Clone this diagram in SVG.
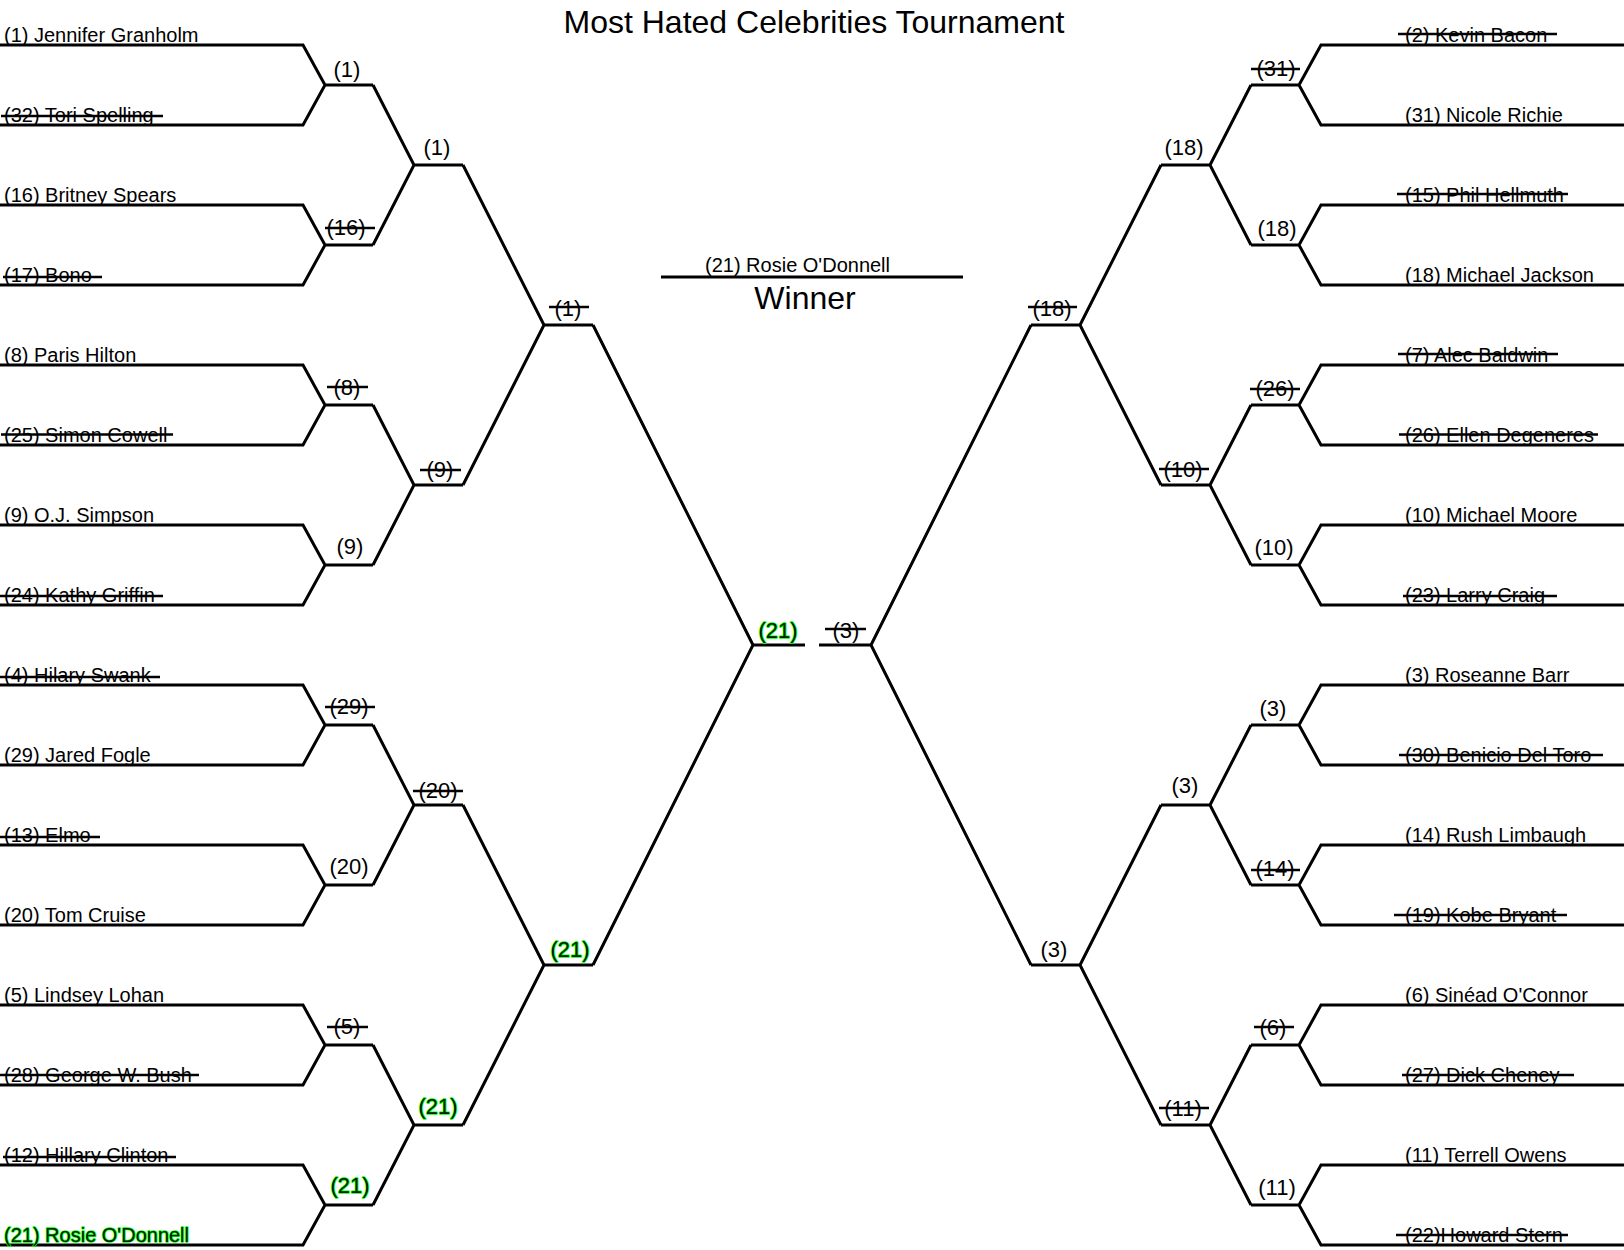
<svg xmlns="http://www.w3.org/2000/svg" width="1624" height="1250" viewBox="0 0 1624 1250">
<style>
.ln{fill:none;stroke:#000;stroke-width:3;stroke-linejoin:miter}
.st{stroke:#000;stroke-width:2.5}
text{font-family:"Liberation Sans",Arial,sans-serif;fill:#000}
.nm{font-size:20px}
.sd{font-size:22px;text-anchor:middle}
.w{fill:#002200;stroke:#00ff00;stroke-width:1.6;paint-order:stroke;stroke-linejoin:round}
</style>
<rect width="1624" height="1250" fill="#fff"/>
<g id="connectors" class="ln">
<path d="M0 45H303L325 85L303 125H0M325 85H373"/>
<path d="M0 205H303L325 245L303 285H0M325 245H373"/>
<path d="M0 365H303L325 405L303 445H0M325 405H373"/>
<path d="M0 525H303L325 565L303 605H0M325 565H373"/>
<path d="M0 685H303L325 725L303 765H0M325 725H373"/>
<path d="M0 845H303L325 885L303 925H0M325 885H373"/>
<path d="M0 1005H303L325 1045L303 1085H0M325 1045H373"/>
<path d="M0 1165H303L325 1205L303 1245H0M325 1205H373"/>
<path d="M373 85L414 165L373 245M414 165H463"/>
<path d="M373 405L414 485L373 565M414 485H463"/>
<path d="M373 725L414 805L373 885M414 805H463"/>
<path d="M373 1045L414 1125L373 1205M414 1125H463"/>
<path d="M463 165L544 325L463 485M544 325H593"/>
<path d="M463 805L544 965L463 1125M544 965H593"/>
<path d="M593 325L753 645L593 965M753 645H805"/>
<path d="M1624 45H1321L1299 85L1321 125H1624M1299 85H1251"/>
<path d="M1624 205H1321L1299 245L1321 285H1624M1299 245H1251"/>
<path d="M1624 365H1321L1299 405L1321 445H1624M1299 405H1251"/>
<path d="M1624 525H1321L1299 565L1321 605H1624M1299 565H1251"/>
<path d="M1624 685H1321L1299 725L1321 765H1624M1299 725H1251"/>
<path d="M1624 845H1321L1299 885L1321 925H1624M1299 885H1251"/>
<path d="M1624 1005H1321L1299 1045L1321 1085H1624M1299 1045H1251"/>
<path d="M1624 1165H1321L1299 1205L1321 1245H1624M1299 1205H1251"/>
<path d="M1251 85L1210 165L1251 245M1210 165H1161"/>
<path d="M1251 405L1210 485L1251 565M1210 485H1161"/>
<path d="M1251 725L1210 805L1251 885M1210 805H1161"/>
<path d="M1251 1045L1210 1125L1251 1205M1210 1125H1161"/>
<path d="M1161 165L1080 325L1161 485M1080 325H1031"/>
<path d="M1161 805L1080 965L1161 1125M1080 965H1031"/>
<path d="M1031 325L871 645L1031 965M871 645H819"/>
<path d="M661 277H963"/>
</g>
<g id="title"><text x="814" y="33" font-size="32" text-anchor="middle">Most Hated Celebrities Tournament</text></g>
<g id="winner">
<text x="705" y="272" font-size="20">(21) Rosie O'Donnell</text>
<text x="805" y="309" font-size="32" text-anchor="middle">Winner</text>
</g>
<g id="left-names" class="nm">
<g id="L0"><text x="4" y="41.5">(1) Jennifer Granholm</text></g>
<g id="L1"><text x="4" y="121.5">(32) Tori Spelling</text><line class="st" x1="1" y1="116" x2="163" y2="116"/></g>
<g id="L2"><text x="4" y="201.5">(16) Britney Spears</text></g>
<g id="L3"><text x="4" y="281.5">(17) Bono</text><line class="st" x1="3" y1="277" x2="102" y2="277"/></g>
<g id="L4"><text x="4" y="361.5">(8) Paris Hilton</text></g>
<g id="L5"><text x="4" y="441.5">(25) Simon Cowell</text><line class="st" x1="1" y1="434.5" x2="173" y2="434.5"/></g>
<g id="L6"><text x="4" y="521.5">(9) O.J. Simpson</text></g>
<g id="L7"><text x="4" y="601.5">(24) Kathy Griffin</text><line class="st" x1="0" y1="596" x2="163" y2="596"/></g>
<g id="L8"><text x="4" y="681.5">(4) Hilary Swank</text><line class="st" x1="0" y1="677" x2="160" y2="677"/></g>
<g id="L9"><text x="4" y="761.5">(29) Jared Fogle</text></g>
<g id="L10"><text x="4" y="841.5">(13) Elmo</text><line class="st" x1="0" y1="837" x2="100" y2="837"/></g>
<g id="L11"><text x="4" y="921.5">(20) Tom Cruise</text></g>
<g id="L12"><text x="4" y="1001.5">(5) Lindsey Lohan</text></g>
<g id="L13"><text x="4" y="1081.5">(28) George W. Bush</text><line class="st" x1="0" y1="1075" x2="199" y2="1075"/></g>
<g id="L14"><text x="4" y="1161.5">(12) Hillary Clinton</text><line class="st" x1="3" y1="1157" x2="176" y2="1157"/></g>
<g id="L15"><text class="w" x="4" y="1241.5">(21) Rosie O'Donnell</text></g>
</g>
<g id="right-names" class="nm">
<g id="R0"><text x="1405" y="41.5">(2) Kevin Bacon</text><line class="st" x1="1398" y1="34" x2="1557" y2="34"/></g>
<g id="R1"><text x="1405" y="121.5">(31) Nicole Richie</text></g>
<g id="R2"><text x="1405" y="201.5">(15) Phil Hellmuth</text><line class="st" x1="1397" y1="194" x2="1568" y2="194"/></g>
<g id="R3"><text x="1405" y="281.5">(18) Michael Jackson</text></g>
<g id="R4"><text x="1405" y="361.5">(7) Alec Baldwin</text><line class="st" x1="1398" y1="354" x2="1558" y2="354"/></g>
<g id="R5"><text x="1405" y="441.5">(26) Ellen Degeneres</text><line class="st" x1="1399" y1="434.5" x2="1598" y2="434.5"/></g>
<g id="R6"><text x="1405" y="521.5">(10) Michael Moore</text></g>
<g id="R7"><text x="1405" y="601.5">(23) Larry Craig</text><line class="st" x1="1403" y1="596" x2="1557" y2="596"/></g>
<g id="R8"><text x="1405" y="681.5">(3) Roseanne Barr</text></g>
<g id="R9"><text x="1405" y="761.5">(30) Benicio Del Toro</text><line class="st" x1="1399" y1="755" x2="1603" y2="755"/></g>
<g id="R10"><text x="1405" y="841.5">(14) Rush Limbaugh</text></g>
<g id="R11"><text x="1405" y="921.5">(19) Kobe Bryant</text><line class="st" x1="1394" y1="915" x2="1567" y2="915"/></g>
<g id="R12"><text x="1405" y="1001.5">(6) Sinéad O'Connor</text></g>
<g id="R13"><text x="1405" y="1081.5">(27) Dick Cheney</text><line class="st" x1="1402" y1="1075" x2="1574" y2="1075"/></g>
<g id="R14"><text x="1405" y="1161.5">(11) Terrell Owens</text></g>
<g id="R15"><text x="1405" y="1241.5">(22)Howard Stern</text><line class="st" x1="1396" y1="1235" x2="1568" y2="1235"/></g>
</g>
<g id="left-rounds" class="sd">
<g id="LA0"><text x="347" y="77">(1)</text></g>
<g id="LA1"><text x="346" y="235">(16)</text><line class="st" x1="325" y1="228" x2="375" y2="228"/></g>
<g id="LA2"><text x="347" y="395">(8)</text><line class="st" x1="327" y1="387" x2="368" y2="387"/></g>
<g id="LA3"><text x="350" y="554">(9)</text></g>
<g id="LA4"><text x="349" y="714">(29)</text><line class="st" x1="325" y1="707" x2="375" y2="707"/></g>
<g id="LA5"><text x="349" y="874">(20)</text></g>
<g id="LA6"><text x="347" y="1034">(5)</text><line class="st" x1="327" y1="1027" x2="368" y2="1027"/></g>
<g id="LA7"><text class="w" x="350" y="1193">(21)</text></g>
<g id="LB0"><text x="437" y="155">(1)</text></g>
<g id="LB1"><text x="440" y="477">(9)</text><line class="st" x1="420" y1="470" x2="461" y2="470"/></g>
<g id="LB2"><text x="438" y="798">(20)</text><line class="st" x1="413" y1="791" x2="463" y2="791"/></g>
<g id="LB3"><text class="w" x="438" y="1114">(21)</text></g>
<g id="LC0"><text x="568" y="316">(1)</text><line class="st" x1="549" y1="307" x2="589" y2="307"/></g>
<g id="LC1"><text class="w" x="570" y="957">(21)</text></g>
<g id="LF"><text class="w" x="778" y="638">(21)</text></g>
</g>
<g id="right-rounds" class="sd">
<g id="RF"><text x="846" y="638">(3)</text><line class="st" x1="825" y1="629" x2="866" y2="629"/></g>
<g id="RC0"><text x="1052" y="316">(18)</text><line class="st" x1="1028" y1="307" x2="1077" y2="307"/></g>
<g id="RC1"><text x="1054" y="957">(3)</text></g>
<g id="RB0"><text x="1184" y="155">(18)</text></g>
<g id="RB1"><text x="1183" y="477">(10)</text><line class="st" x1="1159" y1="469" x2="1209" y2="469"/></g>
<g id="RB2"><text x="1185" y="793">(3)</text></g>
<g id="RB3"><text x="1183" y="1116">(11)</text><line class="st" x1="1159" y1="1108" x2="1209" y2="1108"/></g>
<g id="RA0"><text x="1276" y="76">(31)</text><line class="st" x1="1251" y1="69" x2="1300" y2="69"/></g>
<g id="RA1"><text x="1277" y="236">(18)</text></g>
<g id="RA2"><text x="1275" y="396">(26)</text><line class="st" x1="1250" y1="389" x2="1300" y2="389"/></g>
<g id="RA3"><text x="1274" y="555">(10)</text></g>
<g id="RA4"><text x="1273" y="716">(3)</text></g>
<g id="RA5"><text x="1275" y="876">(14)</text><line class="st" x1="1251" y1="870" x2="1300" y2="870"/></g>
<g id="RA6"><text x="1273" y="1035">(6)</text><line class="st" x1="1254" y1="1027" x2="1294" y2="1027"/></g>
<g id="RA7"><text x="1277" y="1195">(11)</text></g>
</g>
</svg>
